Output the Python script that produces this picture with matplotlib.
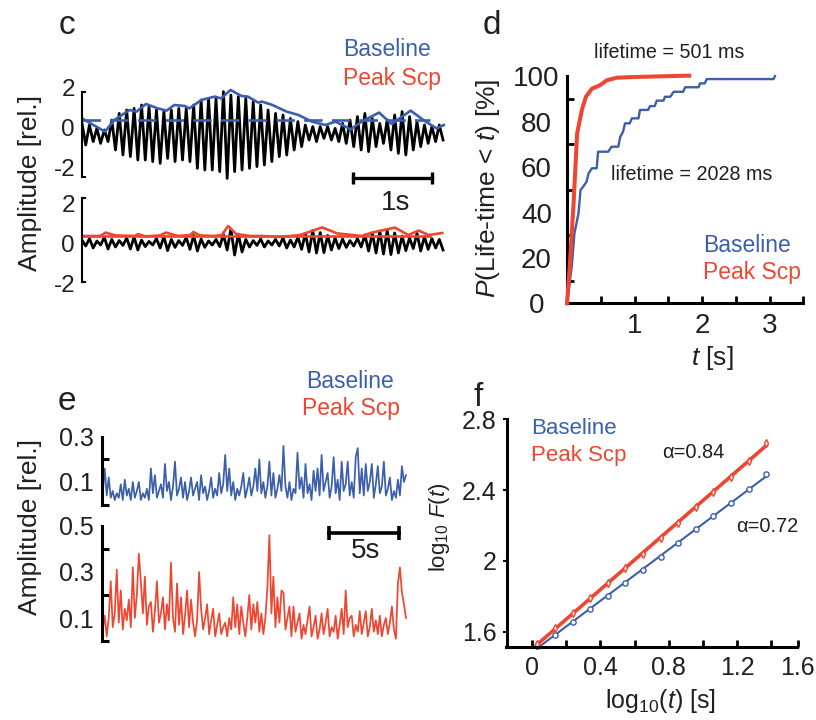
import matplotlib
matplotlib.use("Agg")
import matplotlib.pyplot as plt
import numpy as np

plt.rcParams["font.family"] = ["Liberation Sans", "DejaVu Sans"]
plt.rcParams["mathtext.fontset"] = "custom"
plt.rcParams["mathtext.rm"] = "Liberation Sans"
plt.rcParams["mathtext.it"] = "Liberation Sans:italic"

BLUE = "#3c5fab"
RED = "#ef4631"
INK = "#231f20"
W, H = 816, 720

# ---- panel c: cycle extremes of the filtered traces (rel.), envelopes ----
C_DURATION = 4.57
C_BASE_PEAKS = [0.18, 0.1, -0.07, -0.15, 0.35, 0.68, 0.85, 0.93, 1.1, 1.02,
                0.85, 0.77, 0.85, 0.93, 0.93, 1.1, 1.35, 1.43, 1.43, 1.77,
                1.6, 1.52, 1.43, 1.27, 1.1, 0.85, 0.68, 0.6, 0.43, 0.27,
                0.1, 0.02, 0.02, 0.02, -0.07, 0.18, 0.35, 0.52, 0.68, 0.43,
                0.18, 0.35, 0.6, 0.77, 0.52, 0.27, 0.1, 0.02, 0.1]
C_BASE_TROUGHS = [-0.9, -0.73, -0.82, -0.73, -1.15, -1.4, -1.48, -1.65, -1.65, -1.73,
                  -1.82, -1.57, -1.73, -1.65, -1.73, -2.07, -2.15, -2.15, -2.23, -2.57,
                  -2.23, -2.15, -2.07, -1.98, -1.9, -1.73, -1.48, -1.4, -1.15, -0.98,
                  -0.65, -0.73, -0.57, -0.65, -0.73, -0.82, -0.98, -1.15, -1.23, -0.98,
                  -0.82, -1.15, -1.32, -1.4, -1.15, -0.98, -0.82, -0.73, -0.65]
C_BASE_ENV_T = [0, 0.29, 0.41, 0.6, 0.69, 0.81, 0.96, 1.07, 1.17, 1.3, 1.36, 1.51,
                1.68, 1.76, 1.88, 2.02, 2.1, 2.23, 2.28, 2.41, 2.59, 2.74, 2.91,
                3.08, 3.21, 3.4, 3.54, 3.76, 3.92, 4.16, 4.35, 4.49, 4.58]
C_BASE_ENV = [0.43, -0.23, 0.35, 0.85, 0.77, 1.15, 0.93, 0.82, 1.1, 1.05, 0.93, 1.35,
              1.52, 1.43, 1.85, 1.55, 1.52, 1.22, 1.27, 1.1, 0.77, 0.6, 0.27,
              0.1, 0.27, -0.12, 0.27, 0.72, 0.15, 0.82, 0.27, -0.07, 0.1]
C_THRESH = 0.35
C_THRESH_END = 4.4

C_SCP_PEAKS = [0.15, 0.22, 0.1, 0.28, 0.18, 0.12, 0.25, 0.3, 0.15, 0.08,
               0.22, 0.32, 0.18, 0.12, 0.28, 0.38, 0.2, 0.1, 0.18, 0.42,
               0.7, 0.45, 0.18, 0.12, 0.2, 0.1, 0.18, 0.25, 0.15, 0.3,
               0.48, 0.62, 0.52, 0.38, 0.25, 0.2, 0.12, 0.22, 0.4, 0.5,
               0.6, 0.62, 0.5, 0.35, 0.25, 0.48, 0.32, 0.22, 0.18]
C_SCP_TROUGHS = [-0.15, -0.25, -0.1, -0.3, -0.2, -0.12, -0.3, -0.35, -0.18, -0.1,
                 -0.25, -0.38, -0.22, -0.12, -0.32, -0.4, -0.22, -0.1, -0.18, -0.35,
                 -0.6, -0.45, -0.2, -0.12, -0.2, -0.1, -0.15, -0.25, -0.2, -0.32,
                 -0.45, -0.5, -0.48, -0.35, -0.28, -0.22, -0.15, -0.2, -0.4, -0.5,
                 -0.55, -0.58, -0.5, -0.38, -0.28, -0.4, -0.32, -0.25, -0.35]
C_SCP_ENV_T = [0, 0.23, 0.3, 0.42, 0.67, 0.71, 0.8, 0.99, 1.06, 1.22, 1.37, 1.41,
               1.49, 1.68, 1.77, 1.85, 1.95, 2.13, 2.28, 2.51, 2.76, 3.04, 3.23,
               3.54, 3.67, 3.96, 4.13, 4.26, 4.39, 4.56]
C_SCP_ENV = [0.35, 0.35, 0.52, 0.38, 0.35, 0.45, 0.33, 0.38, 0.52, 0.35, 0.4, 0.55,
             0.38, 0.35, 0.4, 0.85, 0.45, 0.35, 0.35, 0.3, 0.4, 0.78, 0.48,
             0.35, 0.52, 0.77, 0.4, 0.62, 0.4, 0.5]
C_SCP_THRESH = 0.33

# ---- panel d: cumulative lifetime distributions ----
D_BASE_T = [0, 0.07, 0.11, 0.17, 0.2, 0.24, 0.29, 0.32, 0.37, 0.44, 0.46, 0.61, 0.66,
            0.76, 0.79, 0.83, 0.86, 0.93, 0.96, 1.06, 1.08, 1.2, 1.23, 1.3, 1.33,
            1.43, 1.45, 1.53, 1.58, 1.72, 1.75, 1.95, 1.97, 2.04, 2.07, 3.06, 3.08]
D_BASE_P = [0, 16.1, 30.8, 39.6, 49.9, 51.4, 53.6, 57.3, 59.5, 59.5, 66.8, 66.8, 69.0,
            69.0, 73.4, 75.6, 79.3, 79.3, 81.5, 81.5, 85.2, 85.2, 86.9, 86.9, 89.3,
            89.3, 91.0, 91.0, 93.2, 93.2, 95.2, 95.2, 96.9, 96.9, 98.8, 98.8, 100.1]
D_SCP_T = [0, 0.04, 0.1, 0.15, 0.22, 0.28, 0.37, 0.49, 0.59, 0.74, 0.98, 1.37, 1.77, 1.81]
D_SCP_P = [0, 16, 45.5, 74.9, 85.2, 91, 94.6, 96.1, 98.3, 99.4, 99.7, 100, 100.3, 100.3]

# ---- panel e: amplitude time series (rel.) ----
E_DURATION = 21.66
E_BASE = [0.05, 0.16, 0.04, 0.12, 0.03, 0.06, 0.02, 0.05, 0.03, 0.09,
          0.02, 0.11, 0.04, 0.07, 0.02, 0.10, 0.03, 0.06, 0.10, 0.02,
          0.05, 0.03, 0.07, 0.02, 0.16, 0.05, 0.13, 0.03, 0.06, 0.09,
          0.03, 0.18, 0.06, 0.10, 0.02, 0.08, 0.19, 0.04, 0.07, 0.12,
          0.03, 0.10, 0.02, 0.06, 0.12, 0.04, 0.07, 0.10, 0.02, 0.13,
          0.05, 0.08, 0.02, 0.06, 0.12, 0.03, 0.07, 0.04, 0.14, 0.05,
          0.09, 0.22, 0.06, 0.16, 0.04, 0.10, 0.02, 0.07, 0.04, 0.08,
          0.14, 0.03, 0.07, 0.12, 0.04, 0.08, 0.16, 0.06, 0.20, 0.05,
          0.10, 0.03, 0.08, 0.19, 0.04, 0.14, 0.03, 0.07, 0.13, 0.06,
          0.26, 0.08, 0.03, 0.10, 0.02, 0.07, 0.05, 0.23, 0.07, 0.12,
          0.03, 0.18, 0.05, 0.09, 0.02, 0.15, 0.06, 0.16, 0.04, 0.22,
          0.06, 0.10, 0.14, 0.03, 0.08, 0.21, 0.05, 0.11, 0.02, 0.19,
          0.06, 0.09, 0.19, 0.04, 0.10, 0.03, 0.21, 0.25, 0.05, 0.16,
          0.04, 0.18, 0.06, 0.10, 0.18, 0.03, 0.09, 0.17, 0.05, 0.08,
          0.19, 0.04, 0.07, 0.12, 0.02, 0.06, 0.03, 0.11, 0.04, 0.17,
          0.10, 0.13]
E_SCP = [0.05, 0.11, 0.02, 0.10, 0.26, 0.06, 0.12, 0.31, 0.08, 0.22,
         0.05, 0.14, 0.09, 0.18, 0.06, 0.32, 0.10, 0.20, 0.38, 0.26,
         0.12, 0.28, 0.07, 0.15, 0.17, 0.04, 0.13, 0.26, 0.08, 0.12,
         0.19, 0.05, 0.16, 0.09, 0.34, 0.10, 0.04, 0.25, 0.07, 0.19,
         0.03, 0.11, 0.22, 0.06, 0.18, 0.08, 0.02, 0.09, 0.30, 0.14,
         0.05, 0.10, 0.16, 0.03, 0.09, 0.14, 0.02, 0.07, 0.12, 0.03,
         0.06, 0.08, 0.02, 0.10, 0.05, 0.19, 0.06, 0.16, 0.03, 0.15,
         0.08, 0.02, 0.10, 0.20, 0.05, 0.16, 0.08, 0.17, 0.04, 0.12,
         0.03, 0.10, 0.23, 0.46, 0.12, 0.28, 0.06, 0.19, 0.08, 0.22,
         0.21, 0.05, 0.10, 0.15, 0.02, 0.15, 0.04, 0.08, 0.12, 0.01,
         0.07, 0.03, 0.09, 0.15, 0.02, 0.06, 0.11, 0.01, 0.05, 0.12,
         0.03, 0.08, 0.14, 0.02, 0.06, 0.04, 0.11, 0.01, 0.07, 0.14,
         0.03, 0.22, 0.06, 0.10, 0.11, 0.02, 0.07, 0.04, 0.13, 0.03,
         0.08, 0.13, 0.02, 0.06, 0.14, 0.04, 0.09, 0.03, 0.11, 0.02,
         0.07, 0.10, 0.03, 0.08, 0.15, 0.05, 0.01, 0.25, 0.32, 0.21,
         0.16, 0.10]

# ---- panel f: fluctuation function ----
F_LOGT = [0.03, 0.134, 0.237, 0.34, 0.443, 0.546, 0.649, 0.752, 0.855, 0.958,
          1.061, 1.164, 1.267, 1.37]
F_BASE = [1.519, 1.581, 1.657, 1.726, 1.802, 1.877, 1.949, 2.024, 2.103, 2.179,
          2.254, 2.325, 2.405, 2.489]
F_SCP = [1.530, 1.619, 1.704, 1.789, 1.873, 1.958, 2.039, 2.128, 2.216, 2.306,
         2.391, 2.476, 2.566, 2.664]


def px_axes(fig, left, top, right, bottom):
    ax = fig.add_axes([left / W, 1 - bottom / H, (right - left) / W, (bottom - top) / H])
    ax.patch.set_visible(False)
    for side in ("top", "right"):
        ax.spines[side].set_visible(False)
    return ax


def put(fig, x, y, s, size, color=INK, ha="center", va="center", **kw):
    fig.text(x / W, 1 - y / H, s, fontsize=size, color=color, ha=ha, va=va, **kw)


def zigzag(peaks, troughs):
    return np.column_stack([peaks, troughs]).ravel()


def bracket_axis(ax, lo, hi, labels, size, pad, lw, tlen, minor=None):
    ax.spines["left"].set_bounds(lo, hi)
    ax.spines["left"].set_linewidth(lw)
    ax.spines["bottom"].set_visible(False)
    ax.set_xticks([])
    ax.set_yticks(labels)
    ax.set_yticklabels([f"{v:g}" for v in labels])
    ax.set_yticks(minor if minor is not None else [lo, hi], minor=True)
    ax.tick_params(axis="y", which="major", length=0, pad=pad, labelsize=size, labelcolor=INK)
    ax.tick_params(axis="y", which="minor", length=tlen, width=lw, direction="in")


fig = plt.figure(figsize=(W / 100, H / 100), dpi=100)

# ================= panel c =================
ax = px_axes(fig, 82, 85, 450, 185)
ax.set_xlim(0, 4.658)
ax.set_ylim(-2.9, 2.1)
t = np.linspace(0, C_DURATION, 2 * len(C_BASE_PEAKS))
ax.plot(t, zigzag(C_BASE_PEAKS, C_BASE_TROUGHS), color="black", lw=2.0)
ax.plot(C_BASE_ENV_T, C_BASE_ENV, color=BLUE, lw=1.9)
ax.plot([0, C_THRESH_END], [C_THRESH, C_THRESH], color=BLUE, lw=1.9, dashes=(7, 3.5))
ax.plot([3.43, 4.43], [-2.535, -2.535], color="black", lw=2.4, marker="|",
        ms=9, mew=2.4, clip_on=False)
bracket_axis(ax, -2.5, 1.75, [-2, 0, 2], 17.5, 5, 1.5, 3)

ax = px_axes(fig, 82, 190, 450, 295)
ax.set_xlim(0, 4.658)
ax.set_ylim(-2.6, 2.65)
t = np.linspace(0, C_DURATION, 2 * len(C_SCP_PEAKS))
ax.plot(t, zigzag(C_SCP_PEAKS, C_SCP_TROUGHS), color="black", lw=2.0)
ax.plot([0, C_THRESH_END], [C_SCP_THRESH, C_SCP_THRESH], color=RED, lw=1.9)
ax.plot(C_SCP_ENV_T, C_SCP_ENV, color=RED, lw=1.9)
bracket_axis(ax, -1.95, 2.25, [-2, 0, 2], 17.5, 5, 1.5, 3)

put(fig, 67, 26, "c", 24)
put(fig, 343, 50, "Baseline", 16.5, color=BLUE, ha="left")
put(fig, 343, 78, "Peak Scp", 16.5, color=RED, ha="left")
put(fig, 396, 203, "1s", 20)
put(fig, 30, 183, "Amplitude [rel.]", 19, rotation=90)

# ================= panel d =================
ax = px_axes(fig, 567, 70, 810, 303.3)
ax.set_xlim(0, 3.6)
ax.set_ylim(0, 102.8)
ax.plot(D_BASE_T, D_BASE_P, color=BLUE, lw=1.7, clip_on=False, zorder=2)
ax.plot(D_SCP_T, D_SCP_P, color=RED, lw=2.9, clip_on=False, zorder=3)
for side in ("left", "bottom"):
    ax.spines[side].set_linewidth(2.2)
ax.spines["left"].set_bounds(0, 100)
ax.spines["bottom"].set_bounds(0, 3.5)
xt = np.arange(0.5, 3.51, 0.5)
ax.set_xticks(xt)
ax.set_xticklabels([f"{v:.0f}" if v == int(v) else "" for v in xt])
ax.tick_params(axis="x", direction="in", length=5, width=2, pad=7, labelsize=20, labelcolor=INK)
ax.set_yticks(np.arange(0, 101, 20))
ax.set_yticks(np.arange(10, 100, 20), minor=True)
ax.tick_params(axis="y", which="major", length=0, pad=22, labelsize=20, labelcolor=INK)
ax.tick_params(axis="y", which="minor", length=5, width=2, direction="in")
for lab in ax.get_yticklabels():
    lab.set_ha("center")

put(fig, 492, 25, "d", 24)
put(fig, 669, 53, "lifetime = 501 ms", 14.2)
put(fig, 692, 174, "lifetime = 2028 ms", 14.2)
put(fig, 703, 245, "Baseline", 16.5, color=BLUE, ha="left")
put(fig, 703, 272, "Peak Scp", 16.5, color=RED, ha="left")
put(fig, 488, 188, "$P$(Life-time < $t$) [%]", 19, rotation=90)
put(fig, 712, 358, "$t$ [s]", 19)

# ================= panel e =================
t = np.linspace(0, E_DURATION, len(E_BASE))
ax = px_axes(fig, 101.7, 430, 410, 510)
ax.set_xlim(-0.071, 21.95)
ax.set_ylim(-0.024, 0.33)
ax.plot(t, E_BASE, color=BLUE, lw=1.25)
bracket_axis(ax, 0, 0.3, [0.1, 0.3], 18, 5.5, 2.2, 5, minor=[0, 0.2, 0.3])

ax = px_axes(fig, 101.7, 520, 410, 648)
ax.set_xlim(-0.071, 21.95)
ax.set_ylim(-0.0304, 0.526)
ax.plot(t, E_SCP, color=RED, lw=1.25)
ax.plot([16.19, 21.19], [0.471, 0.471], color="black", lw=2.6, marker="|",
        ms=10, mew=2.6, clip_on=False)
bracket_axis(ax, 0, 0.5, [0.1, 0.3, 0.5], 18, 5.5, 2.2, 5,
             minor=[0, 0.2, 0.3, 0.4, 0.5])

put(fig, 67, 401, "e", 24)
put(fig, 350, 381, "Baseline", 16.5, color=BLUE)
put(fig, 351, 408, "Peak Scp", 16.5, color=RED)
put(fig, 366, 551, "5s", 20)
put(fig, 30, 527, "Amplitude [rel.]", 19, rotation=90)

# ================= panel f =================
ax = px_axes(fig, 506.5, 410, 810, 646.7)
ax.set_xlim(-0.149, 1.626)
ax.set_ylim(1.515, 2.853)
x = np.array(F_LOGT)
for vals, color, lw, mk in ((F_BASE, BLUE, 1.5, "o"), (F_SCP, RED, 2.6, "d")):
    k, b = np.polyfit(x, vals, 1)
    ax.plot(x[[0, -1]], k * x[[0, -1]] + b, color=color, lw=lw, clip_on=False)
    ax.plot(x, vals, mk, color=color, mfc="white", ms=3.8, mew=1.0, clip_on=False)
for side in ("left", "bottom"):
    ax.spines[side].set_linewidth(2.2)
ax.spines["left"].set_bounds(1.515, 2.8)
ax.spines["bottom"].set_bounds(-0.149, 1.55)
ax.set_xticks([0, 0.4, 0.8, 1.2, 1.555])
ax.set_xticklabels(["0", "0.4", "0.8", "1.2", "1.6"])
ax.set_xticks([0.2, 0.6, 1.0, 1.4], minor=True)
ax.tick_params(axis="x", which="both", direction="in", length=5, width=2, pad=7,
               labelsize=18, labelcolor=INK)
ax.set_yticks([1.6, 2.0, 2.4, 2.8])
ax.set_yticklabels(["1.6", "2", "2.4", "2.8"])
ax.tick_params(axis="y", direction="out", length=3, width=1.5, pad=4,
               labelsize=18, labelcolor=INK)

put(fig, 478, 397, "f", 24)
put(fig, 531, 429, "Baseline", 16, color=BLUE, ha="left")
put(fig, 531, 456, "Peak Scp", 16, color=RED, ha="left")
put(fig, 693, 453, "\u03b1=0.84", 14.4)
put(fig, 767, 526, "\u03b1=0.72", 14.4)
put(fig, 440, 527, "log$_{10}$ $F$($t$)", 16, rotation=90)
put(fig, 660, 701, "log$_{10}$($t$) [s]", 18)

fig.savefig("out.png", dpi=100)
